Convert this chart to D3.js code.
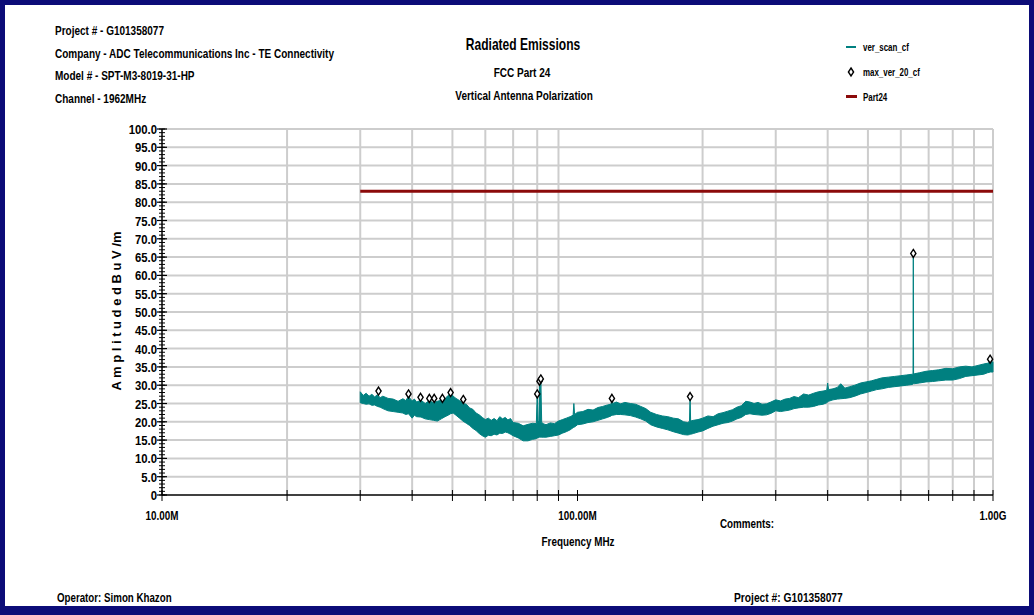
<!DOCTYPE html>
<html>
<head>
<meta charset="utf-8">
<script src="https://cdn.jsdelivr.net/npm/d3@7"></script>
<style>
  body { margin: 0; background: #fff; }
  svg { display: block; }
</style>
</head>
<body>
<div id="chart"></div>
<script>
// ver_scan_cf, drawn as the min / max envelope of the noisy trace
const scanFreq = [
  30, 30.5, 31, 31.5, 32, 32.5, 33, 33.5, 34, 35,
  36, 37, 38, 38.6, 39.2, 40, 40.5, 41, 42, 43,
  44, 45, 46, 47, 48, 48.8, 49.5, 50.2, 51, 52,
  53, 54, 55, 56, 57, 58, 59, 60, 61, 62,
  63, 64, 65, 66, 67, 68, 69, 70, 72, 74,
  76, 78, 79.6, 80, 80.4, 80.8, 81, 81.3, 81.6, 82,
  83, 84, 86, 88, 90, 92, 94, 96, 97.6, 98,
  98.4, 100, 103, 106, 109, 112, 115, 118, 120.4, 121,
  121.6, 124, 127, 130, 134, 138, 142, 146, 150, 155,
  160, 165, 170, 175, 180, 184, 186, 186.6, 187.2, 190,
  195, 200, 206, 212, 218, 224, 230, 236, 242, 248,
  254, 260, 266, 272, 278, 285, 292, 300, 308, 316,
  324, 332, 340, 350, 360, 370, 380, 390, 398, 400,
  402, 412, 422, 430, 440, 452, 465, 480, 495, 510,
  525, 540, 560, 580, 600, 620, 640, 642, 643, 644,
  646, 665, 690, 715, 740, 770, 800, 830, 860, 890,
  920, 950, 970, 980, 984, 988, 1000
];
const scanHigh = [
  28.2, 27.2, 27.8, 27.0, 27.5, 26.8, 27.4, 26.6, 27.0, 26.4,
  26.2, 25.6, 26.3, 25.8, 26.9, 25.7, 26.2, 25.4, 25.9, 25.0,
  25.8, 25.2, 25.6, 25.9, 26.3, 27.2, 27.8, 27.0, 26.4, 25.8,
  25.0, 24.8, 23.8, 23.4, 22.4, 21.9, 21.2, 20.6, 21.0, 20.4,
  20.9, 20.3, 21.4, 20.8, 21.2, 20.5, 20.9, 19.8, 19.6, 18.9,
  19.3, 19.6, 19.5, 27.6, 20.0, 20.2, 31.1, 20.4, 31.7, 19.8,
  19.4, 19.2, 19.7, 19.5, 20.2, 20.6, 21.0, 21.4, 21.8, 25.0,
  22.0, 22.6, 22.8, 23.4, 23.2, 23.9, 24.2, 24.6, 24.8, 26.2,
  25.0, 25.4, 24.9, 25.3, 25.0, 24.8, 24.2, 23.6, 22.6, 22.0,
  21.6, 21.4, 21.0, 20.8, 20.0, 19.8, 20.1, 26.8, 20.2, 20.4,
  20.6, 21.0, 21.6, 21.4, 22.2, 22.5, 22.9, 23.3, 24.0, 24.4,
  25.6, 25.4, 25.0, 25.3, 24.8, 24.9, 25.4, 26.0, 25.7, 26.2,
  26.4, 26.9, 26.6, 27.6, 27.3, 27.8, 28.2, 28.4, 28.6, 30.6,
  28.8, 29.0, 29.4, 30.4, 29.2, 29.6, 30.0, 30.6, 30.9, 31.2,
  31.6, 32.0, 32.2, 32.4, 32.6, 32.8, 33.0, 33.0, 66.0, 33.0,
  33.1, 33.4, 33.8, 34.0, 34.2, 34.6, 34.5, 35.0, 35.2, 35.0,
  35.4, 35.8, 36.0, 36.2, 37.0, 36.2, 36.4
];
const scanLow = [
  25.2, 25.0, 24.8, 24.9, 24.5, 24.6, 24.2, 24.0, 23.6, 23.0,
  22.8, 22.6, 22.4, 22.0, 22.2, 21.0, 21.8, 21.4, 21.3, 20.8,
  20.6, 20.4, 20.2, 20.8, 21.4, 21.8, 22.2, 22.4, 21.8, 21.0,
  20.2, 19.6, 19.0, 18.2, 17.6, 16.8, 16.2, 15.8, 16.3, 16.2,
  16.6, 16.4, 16.9, 16.8, 17.2, 17.0, 16.6, 16.2, 15.6, 14.8,
  14.8, 15.2, 15.4, 15.6, 15.6, 15.8, 15.8, 15.8, 15.8, 15.8,
  15.8, 15.8, 16.0, 16.2, 16.4, 16.9, 17.3, 17.8, 18.4, 18.5,
  18.6, 19.2, 19.4, 19.8, 20.0, 20.4, 20.8, 21.2, 21.6, 21.8,
  21.8, 22.0, 22.0, 21.9, 21.7, 21.3, 20.8, 20.2, 19.2, 18.6,
  18.2, 17.8, 17.3, 16.9, 16.5, 16.4, 16.5, 16.6, 16.6, 16.8,
  17.2, 17.5, 18.2, 18.8, 19.2, 19.6, 19.8, 20.2, 20.8, 21.2,
  22.0, 22.2, 22.0, 21.9, 21.8, 21.9, 22.3, 23.0, 22.8, 23.0,
  23.2, 23.6, 23.8, 24.0, 24.0, 24.2, 24.6, 24.8, 25.2, 25.4,
  25.6, 26.0, 26.2, 26.3, 26.4, 26.6, 27.0, 27.6, 28.0, 28.4,
  28.8, 29.0, 29.4, 29.6, 29.8, 30.0, 30.2, 30.3, 30.4, 30.4,
  30.4, 30.6, 30.9, 31.0, 31.2, 31.4, 31.4, 31.8, 32.4, 32.6,
  32.8, 33.0, 33.4, 33.5, 33.6, 33.6, 33.6
];

// max_ver_20_cf
const maxFreq = [33.2, 39.2, 41.9, 44.0, 45.2, 47.3, 49.5, 53.1, 80.0, 81.0, 81.6, 121, 186.6, 643, 984];
const maxLevel = [28.4, 27.6, 26.7, 26.4, 26.4, 26.4, 28.0, 26.1, 27.6, 31.1, 31.7, 26.4, 26.9, 66.0, 37.1];

// Part24 limit
const limitFreq = [30, 1000];
const limitLevel = [83, 83];

const yTicks = [0, 5, 10, 15, 20, 25, 30, 35, 40, 45, 50, 55, 60, 65, 70, 75, 80, 85, 90, 95, 100];
const yTickLabels = ["0", "5.0", "10.0", "15.0", "20.0", "25.0", "30.0", "35.0", "40.0", "45.0", "50.0",
  "55.0", "60.0", "65.0", "70.0", "75.0", "80.0", "85.0", "90.0", "95.0", "100.0"];
const xLabelFreq = [10, 100, 1000];
const xLabels = ["10.00M", "100.00M", "1.00G"];
const xGridFreq = [20, 30, 40, 50, 60, 70, 80, 90, 200, 300, 400, 500, 600, 700, 800, 900, 1000];
const xTickFreq = [10, 20, 30, 40, 50, 60, 70, 80, 90, 100, 200, 300, 400, 500, 600, 700, 800, 900, 1000];

const headerLines = [
  "Project # - G101358077",
  "Company - ADC Telecommunications Inc - TE Connectivity",
  "Model # - SPT-M3-8019-31-HP",
  "Channel - 1962MHz"
];
const legendNames = ["ver_scan_cf", "max_ver_20_cf", "Part24"];

const width = 1034;
const height = 615;
const FONT = '"Liberation Sans", Arial, sans-serif';
const TEAL = "#008080";

const svg = d3.select("#chart")
  .append("svg")
    .attr("width", width)
    .attr("height", height);

// outer navy frame
svg.append("rect")
  .attr("width", width)
  .attr("height", height)
  .attr("fill", "#0c0c78");
svg.append("rect")
  .attr("x", 5)
  .attr("y", 5)
  .attr("width", 1024)
  .attr("height", 601)
  .attr("fill", "white");

const x = d3.scaleLog().domain([10, 1000]).range([162, 993]);
const y = d3.scaleLinear().domain([0, 100]).range([495, 129]);

// grid
const grid = svg.append("g");
grid.selectAll(".hgrid")
  .data(yTicks.filter(d => d > 0))
  .enter()
  .append("line")
    .attr("x1", x(10))
    .attr("x2", x(1000))
    .attr("y1", d => y(d))
    .attr("y2", d => y(d))
    .attr("stroke", "#cdcdcd")
    .attr("stroke-width", 2);
grid.selectAll(".vgrid")
  .data(xGridFreq)
  .enter()
  .append("line")
    .attr("x1", d => x(d))
    .attr("x2", d => x(d))
    .attr("y1", y(100))
    .attr("y2", y(0))
    .attr("stroke", "#cdcdcd")
    .attr("stroke-width", 2);

// limit line
const limitLine = d3.line()
  .x((d, i) => x(limitFreq[i]))
  .y(d => y(d));
svg.append("path")
  .datum(limitLevel)
  .attr("d", limitLine)
  .attr("fill", "none")
  .attr("stroke", "#8b0a0a")
  .attr("stroke-width", 3);

// scan trace band
const band = d3.area()
  .x((d, i) => x(scanFreq[i]))
  .y0((d, i) => y(scanLow[i]))
  .y1(d => y(d));
svg.append("path")
  .datum(scanHigh)
  .attr("d", band)
  .attr("fill", TEAL)
  .attr("stroke", TEAL)
  .attr("stroke-width", 1)
  .attr("stroke-linejoin", "miter");

// max hold points
const diamond = "M0,-4L2.6,0L0,4L-2.6,0Z";
svg.selectAll(".maxpt")
  .data(maxLevel)
  .enter()
  .append("path")
    .attr("d", diamond)
    .attr("transform", (d, i) => "translate(" + x(maxFreq[i]) + "," + y(d) + ")")
    .attr("fill", "white")
    .attr("stroke", "black")
    .attr("stroke-width", 1.4);

// axes
svg.append("line")
  .attr("x1", x(10)).attr("x2", x(10))
  .attr("y1", y(100)).attr("y2", y(0))
  .attr("stroke", "black").attr("stroke-width", 1.5);
svg.append("line")
  .attr("x1", x(10)).attr("x2", x(1000))
  .attr("y1", y(0)).attr("y2", y(0))
  .attr("stroke", "black").attr("stroke-width", 1.5);

svg.selectAll(".yminor")
  .data(d3.range(0, 101, 1))
  .enter()
  .append("line")
    .attr("x1", x(10) - 3)
    .attr("x2", x(10) + 3)
    .attr("y1", d => y(d))
    .attr("y2", d => y(d))
    .attr("stroke", "black")
    .attr("stroke-width", 1);
svg.selectAll(".ymajor")
  .data(yTicks)
  .enter()
  .append("line")
    .attr("x1", x(10) - 5)
    .attr("x2", x(10) + 5)
    .attr("y1", d => y(d))
    .attr("y2", d => y(d))
    .attr("stroke", "black")
    .attr("stroke-width", 1.2);

// condensed bold text, the original uses a narrow face
function label(tx, ty, str, size, anchor, sx) {
  return svg.append("text")
    .attr("transform", "translate(" + tx + "," + ty + ") scale(" + (sx || 0.77) + ",1)")
    .attr("text-anchor", anchor || "start")
    .attr("font-family", FONT)
    .attr("font-weight", "bold")
    .attr("font-size", size + "px")
    .text(str);
}

yTicks.forEach((d, i) => label(x(10) - 5, y(d) + 5, yTickLabels[i], 13.5, "end", 0.84));

svg.selectAll(".xtick")
  .data(xTickFreq)
  .enter()
  .append("line")
    .attr("x1", d => x(d))
    .attr("x2", d => x(d))
    .attr("y1", y(0) - 5)
    .attr("y2", y(0) + 6)
    .attr("stroke", "black")
    .attr("stroke-width", 1);
xLabelFreq.forEach((d, i) => label(x(d), 520, xLabels[i], 13, "middle", 0.76));

headerLines.forEach((s, i) => label(55, 35 + i * 22.5, s, 13, "start", 0.77));

label(523, 50, "Radiated Emissions", 16.5, "middle", 0.73);
label(522, 77, "FCC Part 24", 13, "middle", 0.77);
label(524, 100, "Vertical Antenna Polarization", 13, "middle", 0.77);

label(578, 546, "Frequency MHz", 13, "middle", 0.76);
label(720, 528, "Comments:", 13.5, "start", 0.73);
label(57, 602, "Operator: Simon Khazon", 12.5, "start", 0.78);
label(734, 602, "Project #: G101358077", 12.5, "start", 0.82);

svg.append("text")
  .attr("transform", "translate(121,311) rotate(-90)")
  .attr("text-anchor", "middle")
  .attr("font-family", FONT)
  .attr("font-weight", "bold")
  .attr("font-size", "13px")
  .text("A m p l i t u d e   d B u V /m");

// legend
const legend = svg.append("g");
legend.append("line")
  .attr("x1", 846).attr("x2", 856)
  .attr("y1", 47).attr("y2", 47)
  .attr("stroke", TEAL).attr("stroke-width", 2);
legend.append("path")
  .attr("d", diamond)
  .attr("transform", "translate(851,72)")
  .attr("fill", "white")
  .attr("stroke", "black")
  .attr("stroke-width", 1.4);
legend.append("line")
  .attr("x1", 846).attr("x2", 857)
  .attr("y1", 96.5).attr("y2", 96.5)
  .attr("stroke", "#8b0a0a").attr("stroke-width", 3);
legendNames.forEach((s, i) => label(863, 51 + i * 25, s, 11, "start", 0.72));
</script>
</body>
</html>
